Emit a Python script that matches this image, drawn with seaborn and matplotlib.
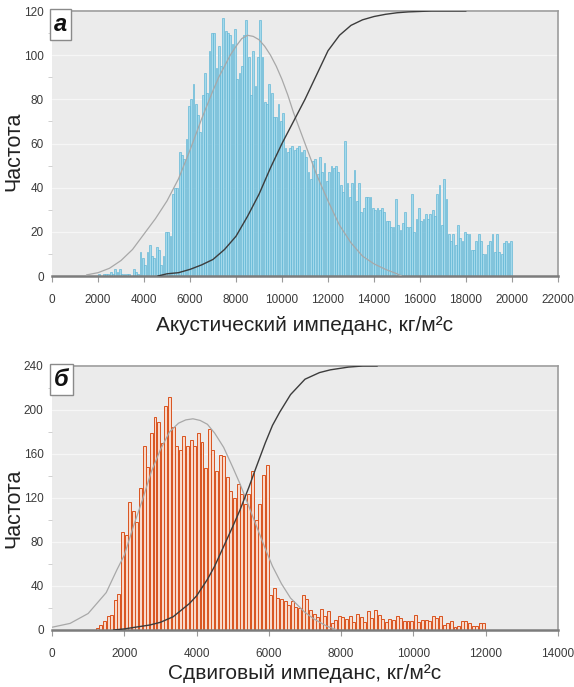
import numpy as np
import pandas as pd
import matplotlib
matplotlib.use("Agg")
import matplotlib.pyplot as plt
import seaborn as sns
from matplotlib.ticker import MultipleLocator

sns.set_style("white")
plt.rcParams['font.family'] = ['Liberation Sans', 'DejaVu Sans']

# ---------------- panel а : acoustic impedance ----------------
ai_bin_start = 2000
ai_bin_width = 100
ai_counts = [
    1, 0, 1, 1, 1, 2, 1, 3, 2, 3,            # 2000-2900
    1, 1, 1, 1, 0, 3, 2, 1, 11, 8,           # 3000-3900
    5, 11, 14, 9, 8, 13, 12, 5, 9, 20,       # 4000-4900
    20, 18, 37, 40, 40, 56, 55, 53, 62, 77,  # 5000-5900
    80, 87, 78, 73, 65, 82, 92, 83, 102, 110,  # 6000-6900
    110, 94, 104, 95, 117, 111, 110, 109, 105, 112,  # 7000-7900
    89, 92, 95, 109, 116, 99, 82, 102, 86, 99,  # 8000-8900
    116, 99, 79, 78, 87, 83, 72, 72, 78, 70,  # 9000-9900
    74, 58, 56, 58, 59, 57, 58, 59, 56, 57,  # 10000-10900
    54, 47, 44, 52, 53, 46, 54, 47, 51, 43,  # 11000-11900
    47, 50, 49, 50, 47, 41, 38, 61, 42, 36,  # 12000-12900
    42, 48, 34, 42, 29, 31, 36, 36, 36, 31,  # 13000-13900
    30, 31, 30, 31, 29, 25, 25, 22, 22, 35,  # 14000-14900
    23, 21, 24, 29, 22, 22, 37, 20, 26, 31,  # 15000-15900
    25, 26, 28, 26, 28, 30, 27, 37, 41, 23,  # 16000-16900
    44, 35, 19, 16, 19, 14, 23, 17, 16, 20,  # 17000-17900
    19, 19, 12, 12, 16, 19, 16, 10, 10, 14,  # 18000-18900
    16, 19, 11, 19, 11, 10, 15, 16, 15, 16,  # 19000-19900
]
ai_norm_x = [1500, 2000, 2500, 3000, 3500, 4000, 4500, 5000, 5500, 6000,
             6500, 7000, 7250, 7500, 7750, 8000, 8250, 8500, 8750, 9000,
             9250, 9500, 9750, 10000, 10250, 10500, 10750, 11000,
             11500, 12000, 12500, 13000, 13500, 14000, 14500, 15000, 15200]
ai_norm_y = [0.5, 1.5, 3.5, 7, 12, 19, 26, 34, 44, 57,
             71, 84, 90, 95, 100, 104, 107.5, 109, 108.5, 107,
             104, 100, 95, 89, 82, 74, 67, 60,
             46, 34, 23, 15, 9, 5.5, 3, 1, 0]
ai_cum_x = [4600, 5000, 5500, 6000, 6500, 7000, 7500, 8000, 8500, 9000,
            9500, 10000, 10500, 11000, 11500, 12000, 12500, 13000, 13500,
            14000, 14500, 15000, 15500, 16000, 16500, 18000]
ai_cum_y = [0, 1, 1.5, 3, 5, 7.5, 12, 18, 27, 37,
            49, 60, 70, 80, 91, 102, 109, 113.5, 116,
            117.5, 118.5, 119.2, 119.6, 119.8, 120, 120]
ai_xticks = list(range(0, 22001, 2000))
ai_yticks = list(range(0, 121, 20))

# ---------------- panel б : shear impedance ----------------
si_bin_start = 1200
si_bin_width = 100
si_counts = [
    2, 5, 8, 13, 14, 27, 33,                      # 1200-1800
    89, 86, 116, 108, 98, 129, 167, 148, 179, 194,  # 1900-2800
    189, 170, 204, 212, 185, 167, 164, 176, 167, 173,  # 2900-3800
    167, 179, 171, 147, 183, 164, 145, 159, 158, 139,  # 3900-4800
    126, 120, 133, 124, 115, 124, 145, 100, 115, 141,  # 4900-5800
    150, 32, 38, 29, 28, 26,                        # 5900-6400
    23, 26, 21, 20, 32, 28, 18, 15, 12, 19,         # 6500-7400
    13, 17, 6, 9, 13, 12, 10, 13, 7, 15,            # 7500-8400
    12, 7, 17, 11, 18, 14, 10, 7, 10, 9,            # 8500-9400
    13, 11, 8, 8, 8, 14, 7, 9, 9, 8,                # 9500-10400
    13, 11, 13, 5, 6, 8, 3, 4, 8, 8,                # 10500-11400
    6, 4, 4, 6, 6,                                  # 11500-11900
]
si_norm_x = [0, 500, 1000, 1500, 1800, 2000, 2250, 2500, 2750, 3000,
             3250, 3500, 3700, 3900, 4100, 4300, 4500, 4750, 5000, 5200,
             5450, 5650, 5900, 6100, 6350, 6600, 7000, 7250, 7600, 7850]
si_norm_y = [2.5, 6, 15, 34, 55, 68, 94, 118, 144, 164,
             180, 188, 191, 192, 190.5, 187, 179, 166, 148, 133,
             112, 95, 74, 58, 42, 29, 16, 10, 3.5, 0.5]
si_cum_x = [1700, 2000, 2700, 3000, 3350, 3800, 4000, 4300, 4500, 4750,
            5000, 5200, 5450, 5650, 5900, 6100, 6300, 6600, 7000, 7400,
            7700, 8200, 8600, 9000]
si_cum_y = [0, 1, 4.5, 7, 12, 24, 31, 46, 58, 76,
            94, 109, 130, 148, 170, 186, 198, 214, 228, 234,
            236.5, 239, 240, 240]
si_xticks = list(range(0, 14001, 2000))
si_yticks = list(range(0, 241, 40))

ylabel_text = "Частота"
ai_xlabel = "Акустический импеданс, кг/м²с"
si_xlabel = "Сдвиговый импеданс, кг/м²с"
ai_panel = "а"
si_panel = "б"

W, H = 574, 687
fig = plt.figure(figsize=(W / 100, H / 100), dpi=100)
fig.patch.set_facecolor("white")


def px_axes(left, top, right, bottom):
    return fig.add_axes([left / W, 1 - bottom / H, (right - left) / W, (bottom - top) / H])


ax1 = px_axes(52, 11, 558, 276)
ax2 = px_axes(52, 366, 558, 630)

narrow = ['Liberation Sans Narrow', 'Liberation Sans', 'DejaVu Sans']


def style_axes(ax, xticks, yticks, xlabel, panel, ylabel_y, xlabelpad):
    ax.set_facecolor("#ebebeb")
    ax.set_xlim(xticks[0], xticks[-1])
    ax.set_ylim(yticks[0], yticks[-1])
    ax.set_xticks(xticks)
    ax.set_yticks(yticks)
    ax.set_xticklabels([str(t) for t in xticks], family=narrow, fontsize=8.5, color="#3a3a3a")
    ax.set_yticklabels([str(t) for t in yticks], family=narrow, fontsize=8.5, color="#3a3a3a")
    ax.yaxis.set_minor_locator(MultipleLocator((yticks[1] - yticks[0]) / 2))
    ax.tick_params(axis="x", which="major", length=4, width=0.8, color="#9a9a9a",
                   pad=9, direction="out", bottom=True)
    ax.tick_params(axis="y", which="major", length=0, pad=6, left=True)
    ax.tick_params(axis="y", which="minor", length=3, width=0.6, color="#c8c8c8",
                   direction="out", left=True)
    ax.yaxis.grid(True, which="major", color="#f6f6f6", linewidth=0.9)
    ax.set_axisbelow(True)
    for side in ("top", "right"):
        ax.spines[side].set_visible(True)
        ax.spines[side].set_color("#9c9c9c")
        ax.spines[side].set_linewidth(1.2)
    ax.spines["left"].set_visible(False)
    ax.spines["bottom"].set_color("#7c7c7c")
    ax.spines["bottom"].set_linewidth(1.8)
    ax.set_xlabel(xlabel, fontsize=15, color="#222222", labelpad=xlabelpad)
    ax.set_ylabel(ylabel_text, fontsize=15.5, color="#222222", labelpad=2)
    ax.yaxis.set_label_coords(-0.054, ylabel_y)
    ax.text(0.004, 0.993, panel, transform=ax.transAxes, ha="left", va="top",
            fontsize=17, fontweight="bold", fontstyle="italic", color="#111111",
            bbox=dict(boxstyle="square,pad=0.18", facecolor="white",
                      edgecolor="#8a8a8a", linewidth=1.0), zorder=10)


def draw_hist(ax, start, width, counts, face, edge, lw):
    n = len(counts)
    df = pd.DataFrame({"value": start + width * (np.arange(n) + 0.5),
                       "count": counts})
    sns.histplot(data=df, x="value", weights="count", binwidth=width,
                 binrange=(start, start + n * width), ax=ax, color=face,
                 edgecolor=edge, linewidth=lw, alpha=1.0, shrink=0.82, zorder=2)


# panel а
draw_hist(ax1, ai_bin_start, ai_bin_width, ai_counts, "#a4d9eb", "#5ab3d4", 0.45)
sns.lineplot(x=ai_norm_x, y=ai_norm_y, ax=ax1, color="#a8a8a8", linewidth=0.9,
             estimator=None, sort=False, zorder=3)
sns.lineplot(x=ai_cum_x, y=ai_cum_y, ax=ax1, color="#3c3c3c", linewidth=1.0,
             estimator=None, sort=False, zorder=4)
style_axes(ax1, ai_xticks, ai_yticks, ai_xlabel, ai_panel, 0.47, 7)

# panel б
draw_hist(ax2, si_bin_start, si_bin_width, si_counts, "#f9dacb", "#d9531f", 0.7)
sns.lineplot(x=si_norm_x, y=si_norm_y, ax=ax2, color="#a8a8a8", linewidth=0.9,
             estimator=None, sort=False, zorder=3)
sns.lineplot(x=si_cum_x, y=si_cum_y, ax=ax2, color="#3c3c3c", linewidth=1.0,
             estimator=None, sort=False, zorder=4)
style_axes(ax2, si_xticks, si_yticks, si_xlabel, si_panel, 0.46, 3)

fig.savefig("out.png", dpi=100, facecolor="white")
